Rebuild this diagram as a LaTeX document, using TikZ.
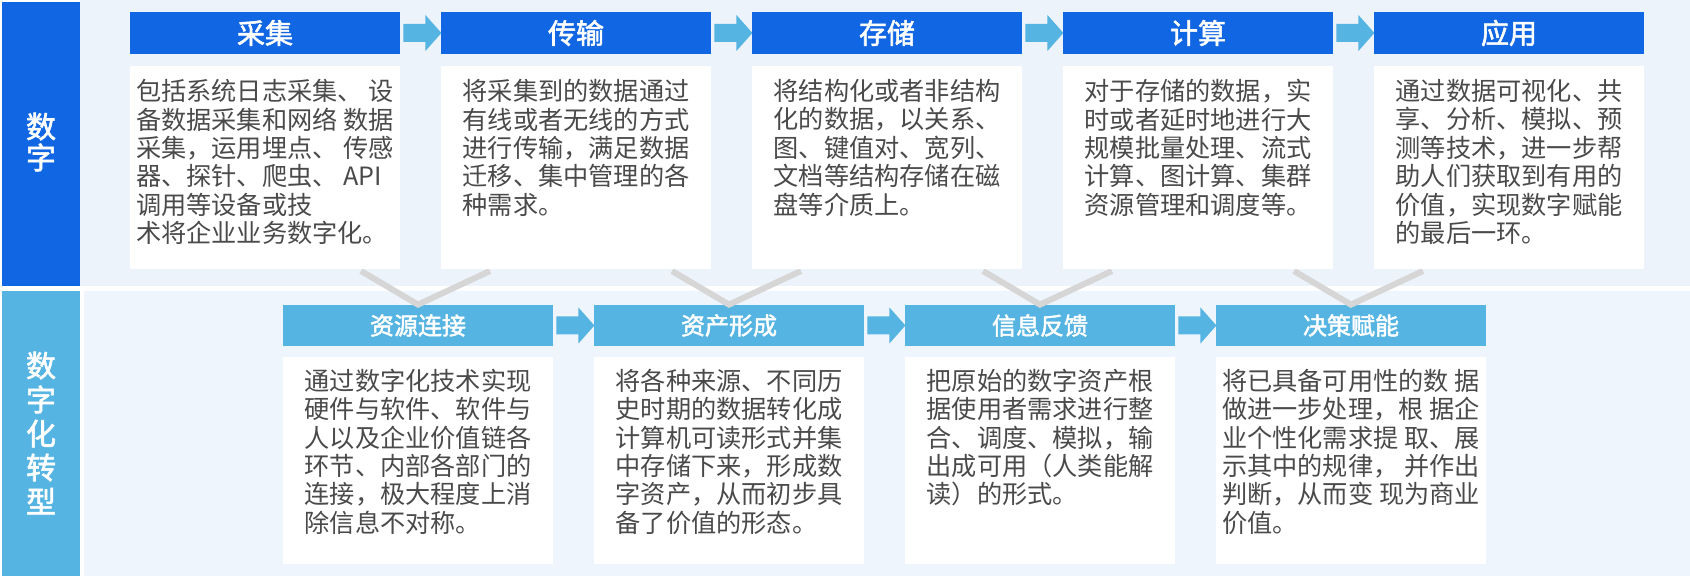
\documentclass[tikz,border=0pt]{standalone}
\usepackage{fontspec}
\newfontfamily\cjk{Noto Sans CJK SC}
\newfontfamily\cjkb[FakeBold=2]{Noto Sans CJK SC}
\usetikzlibrary{positioning,calc}
\definecolor{deepblue}{HTML}{1166E3}
\definecolor{skyblue}{HTML}{56B4E3}
\definecolor{paneltop}{HTML}{EDF3FB}
\definecolor{panelbot}{HTML}{EEF5FC}
\definecolor{vline}{HTML}{D6D6D6}
\definecolor{txtgray}{HTML}{4A4A4A}

\begin{document}
\begin{tikzpicture}[x=0.5pt, y=-0.5pt,
  top head/.style={fill=deepblue, text=white, inner sep=0, minimum width=135pt, minimum height=21pt, font=\cjkb\fontsize{14}{16}\selectfont},
  bot head/.style={fill=skyblue, text=white, inner sep=0, minimum width=135pt, minimum height=20.5pt, font=\cjkb\fontsize{12}{14}\selectfont},
  white box/.style={fill=white, inner sep=0, minimum width=135pt},
  body text/.style={align=left, inner sep=0, anchor=north, text=txtgray, font=\cjk\fontsize{12.6}{14.2}\selectfont},
  side text/.style={align=center, text=white},
  chevron/.style={fill=skyblue},
  link/.style={draw=vline, line width=3pt}]

\useasboundingbox (0,0) rectangle (1690,576);

% backgrounds
\fill[paneltop] (80,0) rectangle (1690,286);
\fill[panelbot] (84,291) rectangle (1690,576);
\fill[deepblue] (2,2) rectangle (80,286);
\fill[skyblue] (2,291) rectangle (80,576);
\node[side text, font=\cjkb\fontsize{15}{15.5}\selectfont] (side-top) at (41,142) {数\\字};
\node[side text, font=\cjkb\fontsize{15}{17}\selectfont] (side-bot) at (41,433) {数\\字\\化\\转\\型};

% lower row
\foreach \t/\d [count=\i] in {
  {资源连接}/{通过数字化技术实现\\硬件与软件、软件与\\人以及企业价值链各\\环节、内部各部门的\\连接，极大程度上消\\除信息不对称。},
  {资产形成}/{将各种来源、不同历\\史时期的数据转化成\\计算机可读形式并集\\中存储下来，形成数\\字资产，从而初步具\\备了价值的形态。},
  {信息反馈}/{把原始的数字资产根\\据使用者需求进行整\\合、调度、模拟，输\\出成可用（人类能解\\读）的形式。},
  {决策赋能}/{将已具备可用性的数 据\\做进一步处理，根 据企\\业个性化需求提 取、展\\示其中的规律， 并作出\\判断，从而变 现为商业\\价值。}}
{
  \node[bot head] (bh-\i) at (418+311*\i-311,325.5) {\t};
  \node[white box, minimum height=103.5pt] (bbox-\i) at (418+311*\i-311,460.5) {};
  \node[body text] (btxt-\i) at ($(bbox-\i.north)+(0,12)$) {\d};
}

% upper row heads
\foreach \t [count=\i] in {采集,传输,存储,计算,应用}
{
  \node[top head] (th-\i) at (265+311*\i-311,33) {\t};
  \coordinate (tb-\i) at (265+311*\i-311,66);
}

% links from upper boxes down to lower heads
\foreach \i in {1,...,4}
  \draw[link] ($(tb-\i)+(96,205)$) -- (bh-\i.north) -- ($(tb-\i)+(225,205)$);

\foreach \d [count=\i] in {
  {包括系统日志采集、 设\\备数据采集和网络 数据\\采集，运用埋点、 传感\\器、探针、爬虫、 API\\调用等设备或技\\术将企业业务数字化。},
  {将采集到的数据通过\\有线或者无线的方式\\进行传输，满足数据\\迁移、集中管理的各\\种需求。},
  {将结构化或者非结构\\化的数据，以关系、\\图、键值对、宽列、\\文档等结构存储在磁\\盘等介质上。},
  {对于存储的数据，实\\时或者延时地进行大\\规模批量处理、流式\\计算、图计算、集群\\资源管理和调度等。},
  {通过数据可视化、共\\享、分析、模拟、预\\测等技术，进一步帮\\助人们获取到有用的\\价值，实现数字赋能\\的最后一环。}}
{
  \node[white box, minimum height=101.5pt, anchor=north] (tbox-\i) at (tb-\i) {};
  \node[body text] (ttxt-\i) at ($(tbox-\i.north)+(0,13)$) {\d};
}

% chevrons between heads
\foreach \i in {1,...,4}
  \fill[chevron] (th-\i.east) ++(3,-9) -- ++(22,0) -- ++(0,-9) -- ++(16,18)
    -- ++(-16,18) -- ++(0,-9) -- ++(-22,0) -- cycle;
\foreach \i in {1,...,3}
  \fill[chevron] (bh-\i.east) ++(3,-9) -- ++(22,0) -- ++(0,-9) -- ++(16,18)
    -- ++(-16,18) -- ++(0,-9) -- ++(-22,0) -- cycle;

\end{tikzpicture}
\end{document}
